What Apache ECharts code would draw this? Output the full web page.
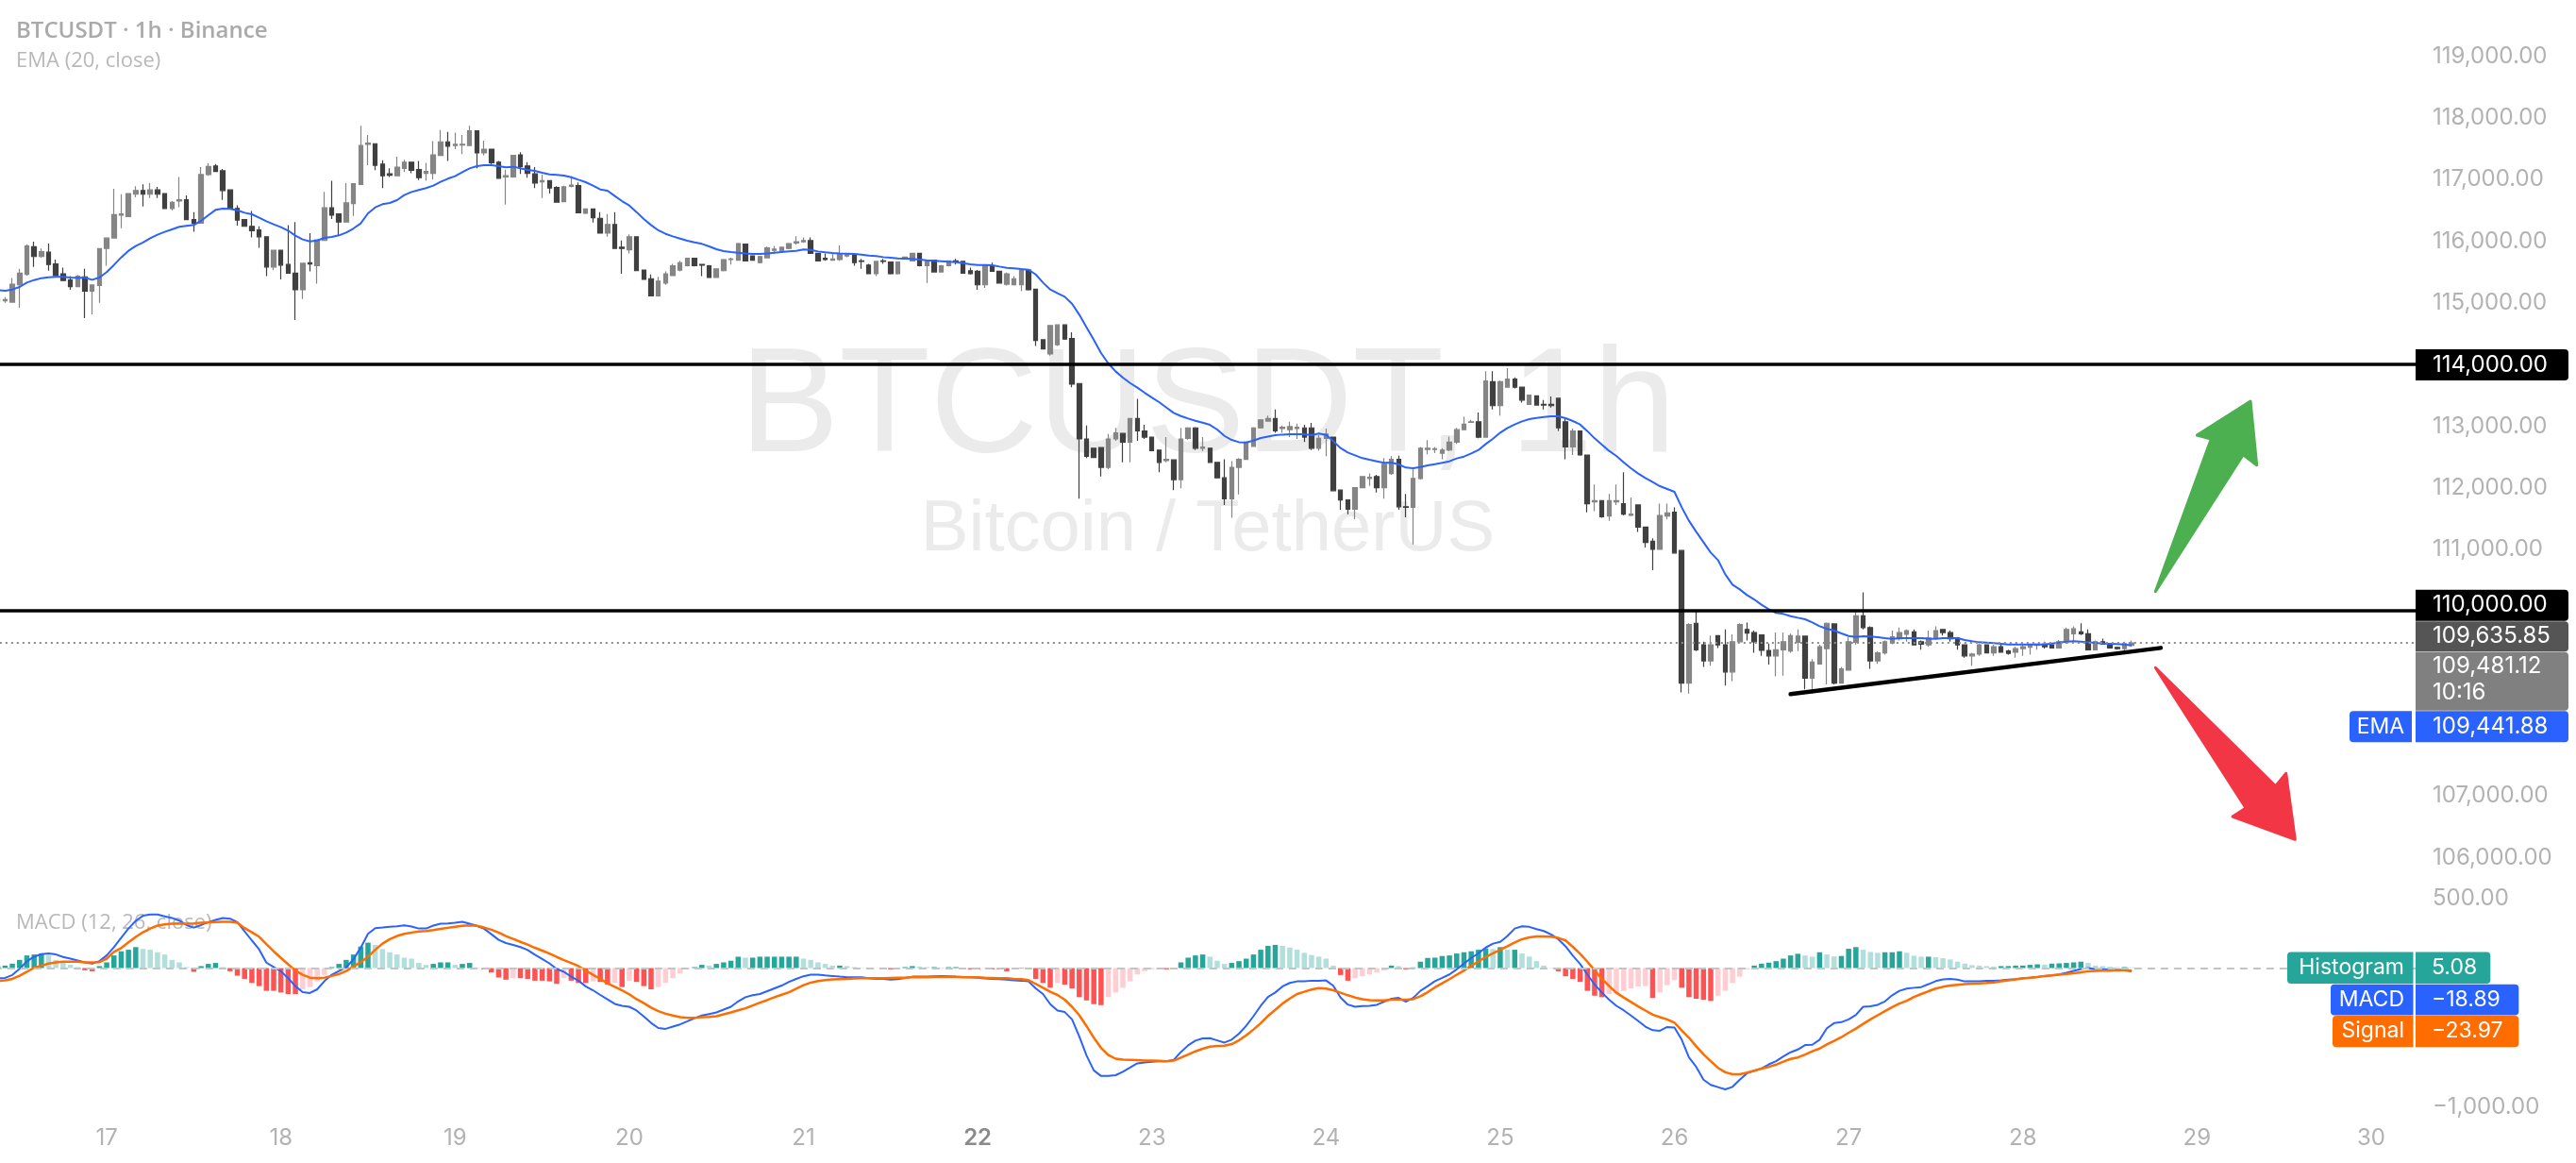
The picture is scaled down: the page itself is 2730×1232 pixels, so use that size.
<!DOCTYPE html>
<html><head><meta charset="utf-8">
<script src="https://cdn.jsdelivr.net/npm/echarts/dist/echarts.min.js"></script>
<style>html,body{margin:0;padding:0;background:#fff}#c{width:2730px;height:1232px}</style>
</head><body><div id="c"></div>
<script>
// ---------- DATA ----------
// hourly candles starting Aug 16 09:00, [open, close, low, high]
const START_DAY = 16, START_HOUR = 9;
const ohlc = [
[115060,115020,114990,115110],[115030,115050,115000,115090],[115010,115300,115010,115400],[115290,115480,114920,115550],[115460,115920,115440,115950],
[115910,115750,115580,115990],[115750,115830,115730,115880],[115820,115620,115520,115960],[115630,115440,115430,115700],[115470,115360,115360,115570],
[115370,115260,115210,115430],[115260,115430,115260,115450],[115420,115190,114750,115550],[115190,115290,114810,115290],[115280,115880,115000,115880],
[115880,116050,115600,116060],[116050,116430,116050,116850],[116420,116440,116210,116760],[116400,116770,116390,116770],[116760,116820,116710,116890],
[116820,116760,116560,116920],[116760,116830,116700,116940],[116830,116760,116700,116880],[116770,116530,116530,116770],[116530,116630,116500,116650],
[116650,116670,116550,117040],[116670,116350,116350,116740],[116350,116290,116150,116470],[116290,117080,116290,117200],[117080,117210,117060,117260],
[117220,117130,117120,117250],[117140,116820,116670,117170],[116830,116530,116530,116830],[116530,116340,116250,116580],[116350,116240,116240,116350],
[116240,116170,116060,116490],[116180,116070,115890,116240],[116070,115580,115430,116070],[115580,115850,115530,115860],[115850,115610,115380,115850],
[115620,115480,115480,116260],[115480,115210,114720,116310],[115210,115640,115060,115640],[115650,115630,115510,116130],[115600,116020,115310,116030],
[116010,116540,116010,116800],[116540,116420,116360,116980],[116440,116310,116090,116450],[116310,116620,116310,116940],[116610,116930,116410,116940],
[116920,117550,116920,117870],[117570,117590,117230,117720],[117580,117230,117150,117580],[117250,117060,116860,117310],[117090,117070,117040,117180],
[117060,117200,117060,117370],[117180,117280,117120,117320],[117280,117150,117100,117280],[117160,117030,116990,117300],[117100,117130,116980,117270],
[117100,117400,117000,117620],[117390,117610,117380,117800],[117610,117540,117300,117770],[117550,117570,117490,117760],[117560,117570,117410,117720],
[117550,117790,117540,117870],[117790,117430,117180,117790],[117430,117490,117390,117630],[117490,117270,117230,117490],[117280,117020,117010,117300],
[117040,117060,116590,117160],[117040,117390,117030,117390],[117400,117210,117090,117440],[117220,117100,117030,117280],[117090,116940,116860,117200],
[116960,116980,116700,117080],[116980,116860,116770,116980],[116870,116630,116630,116890],[116640,116880,116640,116900],[116890,116910,116870,117050],
[116900,116460,116460,116950],[116450,116520,116440,116520],[116520,116380,116300,116520],[116370,116130,116130,116470],[116130,116270,116070,116440],
[116270,115880,115880,116470],[115900,115880,115470,116010],[115860,116070,115800,116110],[116070,115520,115520,116070],[115530,115380,115370,115530],
[115390,115110,115110,115460],[115110,115350,115100,115420],[115320,115470,115290,115510],[115440,115600,115430,115630],[115530,115650,115510,115680],
[115600,115720,115590,115730],[115720,115600,115590,115730],[115620,115610,115430,115630],[115600,115410,115400,115610],[115410,115550,115400,115560],
[115520,115700,115510,115710],[115700,115710,115620,115730],[115690,115960,115680,115970],[115950,115680,115680,115960],[115760,115690,115680,115770],
[115650,115750,115640,115760],[115730,115890,115720,115910],[115850,115870,115800,115920],[115840,115900,115830,115910],[115880,115960,115870,115970],
[115970,115990,115940,116080],[115990,116010,115970,116060],[116010,115800,115800,116060],[115800,115680,115670,115810],[115720,115700,115680,115800],
[115690,115710,115680,115790],[115700,115790,115680,115930],[115760,115780,115740,115800],[115770,115650,115600,115780],[115680,115670,115550,115710],
[115610,115470,115470,115630],[115470,115670,115430,115680],[115680,115670,115630,115710],[115660,115470,115460,115670],[115470,115660,115460,115670],
[115720,115740,115710,115750],[115680,115800,115670,115810],[115800,115600,115590,115810],[115600,115690,115320,115700],[115690,115500,115490,115700],
[115500,115600,115490,115610],[115600,115680,115590,115690],[115680,115670,115620,115710],[115670,115480,115470,115680],[115520,115470,115460,115570],
[115510,115290,115210,115530],[115290,115600,115240,115610],[115600,115510,115500,115650],[115510,115320,115310,115520],[115300,115470,115280,115490],
[115290,115390,115280,115430],[115290,115530,115190,115550],[115530,115210,115200,115530],[115220,114390,114300,115220],[114400,114250,114240,114410],
[114170,114630,114140,114630],[114320,114640,114300,114650],[114640,114410,114400,114640],[114420,113680,113630,114520],[113690,112790,111820,113690],
[112790,112510,112480,113010],[112640,112490,112480,112650],[112650,112330,112180,112660],[112330,112790,112300,112870],[112790,112890,112760,112970],
[112880,112740,112410,112890],[112740,113120,112410,113120],[113120,112920,112760,113440],[112920,112820,112790,113020],[112820,112600,112590,112820],
[112610,112410,112250,112610],[112440,112460,112410,112820],[112450,112130,111960,112450],[112130,112790,111990,112970],[112800,112970,112780,112980],
[112970,112640,112610,112980],[112640,112660,112590,112820],[112640,112410,112400,112650],[112410,112160,112150,112420],[112160,111820,111720,112460],
[111820,112330,111510,112430],[112330,112460,111890,112480],[112460,112740,112450,112750],[112670,112970,112660,112980],[112970,113100,112960,113110],
[113080,113120,113070,113170],[113120,112920,112890,113270],[112960,112980,112890,113010],[112940,112990,112820,113070],[112960,112980,112790,113040],
[112970,112820,112740,113020],[112970,112640,112610,113050],[112640,112800,112600,112850],[112800,112870,112510,112960],[112820,111950,111950,112830],
[111960,111800,111640,111970],[111800,111650,111570,111800],[111650,112000,111490,112010],[112000,112180,111990,112190],[112150,112170,112030,112230],
[112180,112000,111920,112210],[112000,112380,111820,112480],[112230,112460,112210,112510],[112460,111690,111640,112520],[111690,111680,111520,111900],
[111680,112150,111080,112300],[112150,112640,112130,112660],[112620,112640,112540,112770],[112620,112630,112560,112660],[112560,112610,112460,112640],
[112610,112740,112590,112830],[112740,112940,112710,112970],[112940,113030,112930,113150],[113060,113070,113050,113100],[113070,112820,112800,113220],
[112820,113730,112820,113890],[113720,113330,113270,113890],[113330,113720,113170,113740],[113630,113760,113620,113940],[113760,113630,113610,113790],
[113630,113420,113380,113640],[113350,113500,113340,113510],[113490,113340,113330,113500],[113350,113340,113270,113420],[113350,113330,113300,113480],
[113450,112970,112920,113450],[113070,112660,112460,113120],[112660,112920,112530,112960],[112920,112530,112520,112920],[112530,111740,111600,112530],
[111770,111790,111620,112050],[111790,111530,111510,111800],[111540,111790,111460,111900],[111770,111790,111720,112050],[111740,111570,111550,112250],
[111550,111570,111540,111840],[111720,111360,111280,111720],[111360,111110,111030,111360],[111130,111000,110660,111180],[111000,111550,110990,111740],
[111540,111590,111490,111740],[111600,110940,110930,111680],[110980,108830,108680,110980],[108830,109780,108660,109800],[109800,109370,109350,110000],
[109450,109190,109090,109500],[109190,109450,109110,109600],[109600,109450,109400,109610],[109450,109010,108790,109700],[109010,109500,108860,109620],
[109500,109780,109490,109800],[109700,109640,109520,109810],[109650,109500,109320,109680],[109610,109360,109270,109620],[109360,109270,109130,109470],
[109270,109370,108940,109650],[109370,109500,108950,109650],[109350,109600,109320,109630],[109490,109590,109350,109700],[109590,108910,108730,109590],
[108910,109170,108660,109220],[109140,109420,109130,109450],[109390,109800,108810,109810],[109790,108830,108810,109800],[108830,109060,108820,109090],
[109040,109500,109040,109570],[109490,109920,109450,110010],[109920,109730,109700,110300],[109730,109190,109060,109750],[109190,109320,109140,109350],
[109320,109500,109290,109520],[109480,109580,109460,109680],[109550,109650,109520,109730],[109620,109680,109500,109700],[109660,109450,109450,109700],
[109500,109460,109370,109520],[109450,109560,109420,109680],[109560,109680,109550,109750],[109700,109650,109600,109710],[109650,109550,109500,109680],
[109560,109450,109370,109580],[109450,109270,109240,109450],[109270,109300,109110,109320],[109300,109450,109270,109470],[109450,109320,109310,109460],
[109320,109420,109270,109450],[109420,109330,109320,109450],[109350,109310,109290,109370],[109330,109390,109240,109420],[109390,109420,109270,109450],
[109410,109450,109290,109470],[109440,109460,109370,109470],[109460,109420,109390,109500],[109450,109400,109390,109460],[109400,109500,109390,109530],
[109500,109700,109470,109730],[109630,109710,109500,109750],[109660,109630,109610,109800],[109630,109370,109360,109700],[109370,109500,109360,109520],
[109500,109460,109450,109550],[109460,109400,109390,109470],[109410,109390,109370,109420],[109390,109470,109300,109500],[109440,109481.12,109420,109520]
];
const ema20 = [
115205,115195,115215,115256,115327,115368,115399,115414,115419,115419,
115409,115404,115404,115373,115409,115496,115613,115736,115843,115919,
115976,116047,116103,116149,116190,116231,116246,116261,116328,116420,
116506,116527,116522,116501,116460,116435,116379,116323,116272,116226,
116170,116088,116027,115996,116011,116052,116067,116093,116139,116205,
116287,116450,116547,116598,116619,116665,116746,116797,116828,116859,
116900,116961,117012,117053,117119,117180,117216,117231,117231,117216,
117196,117206,117180,117155,117139,117109,117083,117073,117063,117037,
116996,116956,116900,116838,116818,116731,116649,116578,116471,116358,
116261,116175,116118,116077,116041,116006,115980,115955,115914,115868,
115837,115822,115812,115801,115791,115791,115801,115812,115822,115832,
115842,115863,115858,115832,115817,115807,115801,115796,115791,115781,
115766,115756,115740,115730,115720,115715,115710,115700,115689,115679,
115674,115664,115659,115643,115623,115613,115613,115608,115587,115567,
115557,115546,115536,115459,115327,115214,115153,115097,114985,114806,
114602,114398,114183,114015,113887,113785,113698,113622,113540,113463,
113387,113300,113213,113162,113121,113086,113055,113019,112943,112840,
112774,112738,112733,112764,112805,112830,112851,112861,112866,112866,
112866,112851,112877,112856,112754,112642,112571,112525,112479,112453,
112428,112402,112407,112377,112326,112315,112336,112361,112382,112402,
112428,112474,112504,112555,112611,112708,112795,112892,112969,113025,
113076,113112,113132,113147,113158,113158,113127,113081,113025,112918,
112800,112698,112596,112514,112412,112315,112229,112157,112091,112024,
111978,111932,111682,111463,111284,111116,110947,110825,110595,110426,
110350,110258,110186,110100,110028,109967,109952,109916,109890,109865,
109814,109753,109712,109681,109635,109594,109579,109589,109584,109574,
109559,109548,109559,109559,109559,109559,109553,109548,109559,109559,
109559,109528,109508,109492,109487,109477,109467,109457,109457,109457,
109457,109457,109457,109472,109487,109502,109508,109502,109492,109482,
109472,109467,109462,109457,109441.88
];
const macdLine = [
-75,-71,-50,-5,48,82,100,105,98,80, 68,55,41,32,50,91,151,219,285,340,
377,386,386,372,361,342,310,292,310,331, 347,361,356,331,265,199,135,39,7,-23,
-73,-130,-174,-180,-153,-94,-48,-21,5,64, 146,247,288,292,297,301,308,299,285,285,
306,320,322,326,333,320,304,283,244,203, 180,167,151,130,96,66,34,-7,-27,-62,
-91,-132,-160,-194,-226,-258,-272,-279,-306,-349, -395,-432,-438,-422,-406,-384,-361,-342,-331,-320,
-299,-279,-240,-210,-196,-187,-167,-146,-126,-100, -78,-59,-48,-48,-53,-57,-62,-66,-66,-66,
-73,-78,-78,-84,-80,-71,-62,-62,-62,-59, -57,-59,-62,-64,-66,-69,-75,-78,-80,-84,
-89,-91,-96,-146,-187,-260,-306,-317,-370,-493, -630,-737,-778,-778,-772,-747,-717,-687,-680,-676,
-671,-671,-662,-605,-557,-523,-507,-505,-521,-537, -516,-473,-416,-347,-272,-208,-176,-132,-107,-96,
-96,-91,-91,-89,-128,-212,-263,-279,-274,-272, -265,-242,-221,-215,-242,-215,-164,-130,-94,-71,
-46,-9,32,73,107,148,176,189,231,285, 301,297,281,267,242,208,157,89,30,-46,
-119,-176,-228,-272,-304,-342,-381,-422,-448,-452, -425,-429,-516,-644,-712,-804,-842,-858,-874,-856,
-804,-758,-740,-724,-694,-671,-637,-607,-587,-555, -553,-516,-434,-397,-390,-370,-338,-279,-276,-265,
-240,-196,-164,-148,-142,-137,-116,-94,-82,-78, -84,-96,-96,-96,-91,-91,-89,-84,-80,-73,
-69,-64,-57,-53,-46,-34,-21,-7,0,-9, -9,-11,-14,-14,-18.89
];
const signalLine = [
-94,-89,-78,-55,-27,2,18,32,41,46, 46,46,41,41,43,68,116,144,185,224,
258,285,306,315,320,322,320,322,326,329, 331,333,333,326,288,258,226,173,121,73,
27,-18,-48,-69,-73,-69,-57,-43,-21,11, 43,82,132,176,208,231,247,256,263,267,
274,283,290,297,304,308,304,292,276,256, 231,210,189,169,146,126,105,80,57,37,
14,-18,-48,-78,-110,-135,-160,-189,-224,-253, -285,-310,-329,-342,-354,-358,-358,-354,-352,-347,
-333,-320,-304,-290,-269,-249,-231,-210,-192,-174, -148,-123,-105,-94,-87,-82,-80,-78,-75,-73,
-73,-73,-73,-71,-69,-69,-66,-66,-66,-64, -64,-64,-64,-66,-66,-66,-69,-71,-73,-73,
-78,-80,-87,-114,-142,-171,-194,-228,-279,-340, -418,-502,-575,-626,-653,-660,-662,-664,-667,-667,
-669,-671,-667,-646,-623,-600,-582,-566,-562,-559, -548,-521,-484,-443,-397,-345,-301,-256,-219,-187,
-171,-155,-144,-148,-160,-178,-196,-212,-224,-231, -233,-233,-228,-228,-228,-224,-203,-174,-139,-110,
-80,-48,-18,16,48,80,107,132,157,185, 208,221,228,228,226,217,199,153,103,46,
-16,-78,-130,-178,-212,-244,-276,-306,-336,-354, -370,-393,-450,-502,-564,-621,-671,-719,-751,-765,
-765,-753,-740,-724,-712,-696,-674,-655,-644,-623, -600,-580,-550,-525,-498,-466,-436,-402,-370,-340,
-310,-281,-256,-235,-208,-187,-167,-148,-135,-126, -121,-116,-112,-110,-107,-103,-96,-89,-82,-75,
-69,-64,-57,-53,-48,-43,-37,-30,-23,-21, -18,-18,-16,-16,-23.97
];
const histogram = [
14,18,32,59,91,98,105,91,59,41, 23,7,-16,-23,14,41,91,121,132,151,
137,132,114,98,59,41,7,-27,14,30, 37,7,-23,-55,-78,-107,-130,-164,-164,-176,
-187,-187,-153,-137,-96,-50,7,30,59,98, 155,183,167,137,114,98,75,68,37,23,
30,41,41,23,30,37,5,-9,-32,-68, -84,-73,-73,-78,-91,-91,-96,-114,-73,-91,
-107,-107,-96,-100,-119,-107,-137,-91,-100,-130, -153,-137,-107,-73,-39,-5,7,23,18,30,
41,53,82,75,75,82,82,82,82,82, 82,68,59,41,30,18,18,14,7,2,
-9,-2,-2,-9,-2,7,14,11,7,7, 3,7,7,1,-9,-9,-2,-9,-9,-23,
-4,-4,-9,-78,-107,-142,-107,-119,-146,-210, -233,-260,-267,-210,-176,-142,-96,-46,-23,-9,
-9,-9,-9,41,75,91,98,82,53,30, 37,50,68,98,132,160,167,160,148,132,
110,94,82,68,18,-50,-91,-73,-59,-46, -32,-18,18,14,-9,5,46,73,75,87,
91,105,114,121,132,142,137,151,132,132, 105,82,50,18,2,-23,-59,-78,-100,-164,
-199,-210,-187,-183,-164,-146,-132,-130,-215,-176, -123,-87,-142,-210,-221,-228,-237,-199,-164,-107,
-62,-9,18,32,39,50,68,91,103,91, 82,114,98,84,87,139,151,132,116,110,
114,114,121,110,89,82,82,78,71,62, 46,32,21,18,14,11,14,14,18,18,
23,27,25,32,34,37,41,46,37,18, 14,9,7,7,5.08
];
const priceTickLabels = [119000,118000,117000,116000,115000,113000,112000,111000,107000,106000];
const macdTickLabels = [500, -1000];
const dayTickLabels = ['17','18','19','20','21','22','23','24','25','26','27','28','29','30'];
const levels = [114000, 110000];
const lastPrice = 109481.12, prevPrice = 109635.85, emaLast = 109441.88;
const histLast = 5.08, macdLast = -18.89, signalLast = -23.97;
const countdown = '10:16';
const trendline = [[247,108650],[298,109400]];
// drawing annotations (index, price)
const arrowUp = [[297.27,110314],[304.94,112790],[303.0,112851],[310.36,113403],[311.23,112366],[309.36,112534]];
const arrowDown = [[297.27,109080],[313.83,107159],[315.26,107365],[316.51,106293],[307.9,106665],[309.72,106803]];

// ---------- CHART ----------
const N_SLOTS = 334;
const cats = [];
for (let i = 0; i < N_SLOTS; i++) {
  const t = START_HOUR + i;
  const d = START_DAY + Math.floor(t / 24), h = t % 24;
  cats.push(d + ' ' + String(h).padStart(2, '0') + ':00');
}
const fmt = v => (v < 0 ? '\u2212' : '') + Math.abs(v).toLocaleString('en-US', {minimumFractionDigits: 2, maximumFractionDigits: 2});
const histColors = histogram.map((v, i) => {
  const p = i ? histogram[i - 1] : v;
  return v >= 0 ? (v >= p ? '#26a69a' : '#b2dfdb') : (v <= p ? '#ff5252' : '#ffcdd2');
});
const FONT = 'Inter';
const chart = echarts.init(document.getElementById('c'), null, {renderer: 'canvas', width: 2730, height: 1232});
const BAND = 7.692, GL = -6.15, GW = N_SLOTS * BAND;
chart.setOption({
  animation: false,
  backgroundColor: '#ffffff',
  grid: [
    {left: GL, top: -5.8, width: GW, height: 979.5, containLabel: false, outerBoundsMode: 'none'},
    {left: GL, top: 878.5, width: GW, height: 294, containLabel: false, outerBoundsMode: 'none'}
  ],
  xAxis: [
    {type: 'category', gridIndex: 0, data: cats, boundaryGap: true, show: false},
    {type: 'category', gridIndex: 1, data: cats, boundaryGap: true,
     axisLine: {show: false}, axisTick: {show: false}, splitLine: {show: false},
     axisLabel: {interval: 0, margin: 21, fontFamily: FONT, fontSize: 24, color: '#b2b2b2',
       formatter: v => { const [d, hm] = v.split(' '); if (hm !== '00:00' || !dayTickLabels.includes(d)) return ''; return d === '22' ? '{b|22}' : d; },
       rich: {b: {fontFamily: FONT, fontSize: 24, fontWeight: 600, color: '#8a8a8a'}}}}
  ],
  yAxis: [
    {type: 'value', gridIndex: 0, position: 'right', min: 105000, max: 120000, interval: 1000,
     axisLine: {show: false}, axisTick: {show: false}, splitLine: {show: false},
     axisLabel: {margin: 15, fontFamily: FONT, fontSize: 24, color: '#b2b2b2', formatter: v => priceTickLabels.includes(v) ? fmt(v) : ''}},
    {type: 'value', gridIndex: 1, position: 'right', min: -1000, max: 1000, interval: 500,
     axisLine: {show: false}, axisTick: {show: false}, splitLine: {show: false},
     axisLabel: {margin: 15, fontFamily: FONT, fontSize: 24, color: '#b2b2b2', formatter: v => macdTickLabels.includes(v) ? fmt(v) : ''}}
  ],
  series: [
    {type: 'candlestick', name: 'BTCUSDT', xAxisIndex: 0, yAxisIndex: 0, data: ohlc, barWidth: 5, z: 2,
     itemStyle: {color: '#858585', color0: '#404040', borderColor: '#858585', borderColor0: '#404040', borderWidth: 1.2},
     markLine: {silent: true, symbol: 'none', animation: false, label: {show: false},
       data: [
         {yAxis: levels[0], lineStyle: {color: '#000', width: 3.5, type: 'solid'}},
         {yAxis: levels[1], lineStyle: {color: '#000', width: 3.5, type: 'solid'}},
         {yAxis: lastPrice, lineStyle: {color: '#8c8c8c', width: 2, type: [2, 4]}},
         [{coord: trendline[0], lineStyle: {color: '#000', width: 4.5, type: 'solid', cap: 'round'}}, {coord: trendline[1]}]
       ]}},
    {type: 'line', name: 'EMA', xAxisIndex: 0, yAxisIndex: 0, data: ema20, showSymbol: false, symbol: 'none', z: 3,
     lineStyle: {color: '#2962ff', width: 2}},
    {type: 'bar', name: 'Histogram', xAxisIndex: 1, yAxisIndex: 1, barWidth: 5.5, z: 2,
     data: histogram.map((v, i) => ({value: v, itemStyle: {color: histColors[i]}})),
     markLine: {silent: true, symbol: 'none', label: {show: false},
       data: [{yAxis: 0, lineStyle: {color: '#c4c4c4', width: 2, type: [8, 6]}}]}},
    {type: 'line', name: 'MACD', xAxisIndex: 1, yAxisIndex: 1, data: macdLine, showSymbol: false, symbol: 'none', z: 3,
     lineStyle: {color: '#2962ff', width: 2}},
    {type: 'line', name: 'Signal', xAxisIndex: 1, yAxisIndex: 1, data: signalLine, showSymbol: false, symbol: 'none', z: 4,
     lineStyle: {color: '#ff6d00', width: 2.5}}
  ]
});

// ---------- overlays (labels, watermark, drawings) ----------
const yP = v => chart.convertToPixel({yAxisIndex: 0}, v);
const yM = v => chart.convertToPixel({yAxisIndex: 1}, v);
const xa = chart.convertToPixel({xAxisIndex: 0}, 0), xb = chart.convertToPixel({xAxisIndex: 0}, 100);
const xI = i => xa + (xb - xa) * i / 100;
function rect(x, y, w, h, fill, r) { return {type: 'rect', z: 100, silent: true, shape: {x, y, width: w, height: h, r: r || 0}, style: {fill}}; }
function text(x, y, s, font, fill, align, z) {
  return {type: 'text', z: z == null ? 101 : z, silent: true, x, y,
    style: {text: s, font, fill, align: align || 'left', textAlign: align || 'left', verticalAlign: 'middle', textVerticalAlign: 'middle'}};
}
const g = [];
// watermark
g.push(text(1280, 434, 'BTCUSDT, 1h', '400 158px "Liberation Sans"', '#ebebeb', 'center', 0));
g.push(text(1280, 562, 'Bitcoin / TetherUS', '400 76px "Liberation Sans"', '#ebebeb', 'center', 0));
// legends
g.push(text(17, 33, 'BTCUSDT \u00b7 1h \u00b7 Binance', '600 24px "Open Sans"', '#aaaaaa', 'left', 0));
g.push(text(17, 65, 'EMA (20, close)', '400 22px "Open Sans"', '#b8b8b8', 'left', 0));
g.push(text(17, 978, 'MACD (12, 26, close)', '400 22px "Open Sans"', '#b8b8b8', 'left', 0));
// price scale boxes
const BF = '400 24px Inter';
const y114 = yP(levels[0]);
g.push(rect(2560, y114 - 16, 162, 33, '#000000', [0, 4, 4, 0]));
g.push(text(2578, y114 + 0.5, fmt(levels[0]), BF, '#fff'));
const t0 = yP(levels[1]) - 22.5;
g.push(rect(2560, t0, 162, 33, '#000000', [0, 4, 4, 0]));
g.push(text(2578, t0 + 16.5, fmt(levels[1]), BF, '#fff'));
g.push(rect(2560, t0 + 33.5, 162, 32, '#555555', [0, 4, 4, 0]));
g.push(text(2578, t0 + 49.5, fmt(prevPrice), BF, '#fff'));
g.push(rect(2560, t0 + 66, 162, 62, '#808080', [0, 4, 4, 0]));
g.push(text(2578, t0 + 81, fmt(lastPrice), BF, '#fff'));
g.push(text(2578, t0 + 109, countdown, BF, '#fff'));
g.push(rect(2560, t0 + 128.5, 162, 33, '#2962ff', [0, 4, 4, 0]));
g.push(text(2578, t0 + 145, fmt(emaLast), BF, '#fff'));
g.push(rect(2490, t0 + 128.5, 66, 33, '#2962ff', [4, 0, 0, 4]));
g.push(text(2523, t0 + 145, 'EMA', '400 23px Inter', '#fff', 'center'));
// MACD boxes
const z0 = yM(0);
const MF = '400 23px Inter';
g.push(rect(2424, z0 - 17, 133.5, 33.4, '#26a69a', [4, 0, 0, 4]));
g.push(rect(2560, z0 - 17, 79.3, 33.4, '#26a69a', [0, 4, 4, 0]));
g.push(text(2548, z0, 'Histogram', MF, '#fff', 'right'));
g.push(text(2577, z0, fmt(histLast), MF, '#fff'));
g.push(rect(2470, z0 + 17.2, 87.5, 32.7, '#2962ff', [4, 0, 0, 4]));
g.push(rect(2560, z0 + 17.2, 109.3, 32.7, '#2962ff', [0, 4, 4, 0]));
g.push(text(2548, z0 + 33.5, 'MACD', MF, '#fff', 'right'));
g.push(text(2577, z0 + 33.5, fmt(macdLast), MF, '#fff'));
g.push(rect(2472, z0 + 50.5, 85.5, 33.3, '#ff6d00', [4, 0, 0, 4]));
g.push(rect(2560, z0 + 50.5, 109.3, 33.3, '#ff6d00', [0, 4, 4, 0]));
g.push(text(2548, z0 + 67, 'Signal', MF, '#fff', 'right'));
g.push(text(2577, z0 + 67, fmt(signalLast), MF, '#fff'));
// arrows
const poly = (pts, col) => ({type: 'polygon', z: 90, silent: true,
  shape: {points: pts.map(p => [xI(p[0]), yP(p[1])])},
  style: {fill: col, stroke: col, lineWidth: 3, lineJoin: 'round'}});
g.push(poly(arrowUp, '#4caf50'));
g.push(poly(arrowDown, '#f23645'));
chart.setOption({graphic: {elements: g}});
</script>
</body></html>
